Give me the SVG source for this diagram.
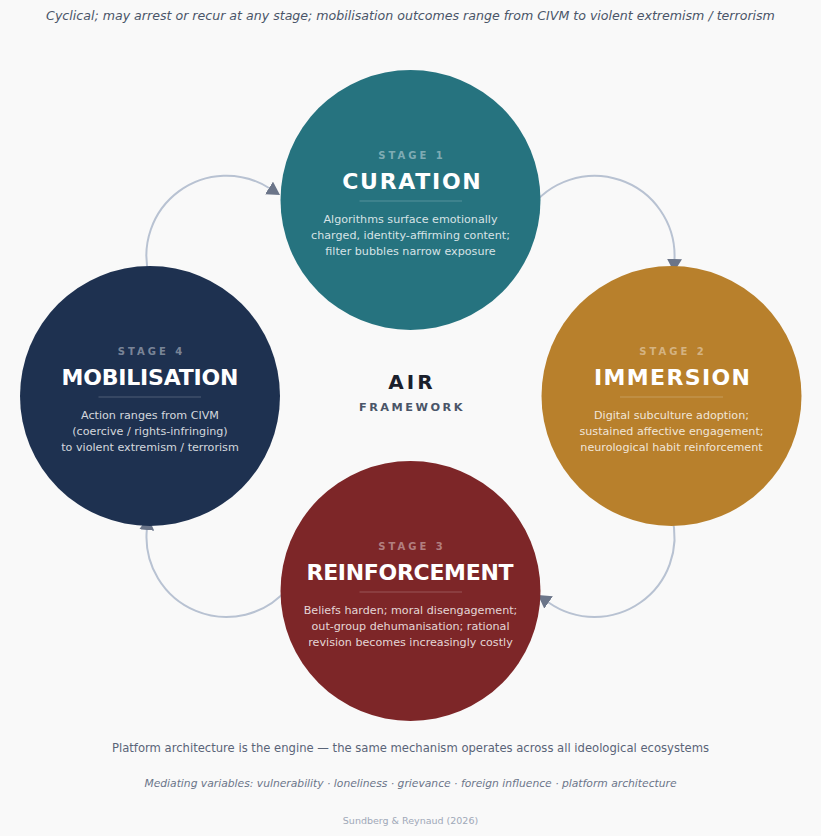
<svg xmlns="http://www.w3.org/2000/svg" width="821" height="836" viewBox="0 0 821 836">
<style>
text{font-family:"DejaVu Sans","Liberation Sans",sans-serif;text-anchor:middle}
.stage{font-size:10px;font-weight:bold;letter-spacing:3px;fill:#ffffff;fill-opacity:0.42}
.title{font-size:22px;font-weight:bold;fill:#ffffff}
.body{font-size:11.15px;fill:#ffffff;fill-opacity:0.82}
.sep{stroke:#ffffff;stroke-opacity:0.22;stroke-width:1}
.conn{fill:none;stroke:#b8c2d2;stroke-width:2}
</style>
<defs>
<marker id="arr" markerUnits="userSpaceOnUse" markerWidth="14" markerHeight="15" refX="0" refY="7.5" orient="auto">
<path d="M0,0 L13,7.5 L0,15 Z" fill="#6b7589"/>
</marker>
</defs>
<rect width="821" height="836" fill="#f9f9f9"/>
<text x="410.5" y="20" style="font-size:12.6px;font-style:italic;fill:#4a5568">Cyclical; may arrest or recur at any stage; mobilisation outcomes range from CIVM to violent extremism / terrorism</text>
<g id="connectors">
<path class="conn" marker-end="url(#arr)" d="M149.2,276.7 A80,80 0 0 1 269,188"/>
<path class="conn" marker-end="url(#arr)" d="M529,210 A80,80 0 0 1 674.5,259"/>
<path class="conn" marker-end="url(#arr)" d="M671.8,516.3 A80,80 0 0 1 548.6,602.5"/>
<path class="conn" marker-end="url(#arr)" d="M287.8,588.4 A80,80 0 0 1 146.8,530"/>
</g>
<g id="stage1">
<circle cx="410.5" cy="200" r="130" fill="#26737f"/>
<text class="stage" x="412" y="159">STAGE 1</text>
<text class="title" x="411.5" y="189" textLength="138.5" lengthAdjust="spacing">CURATION</text>
<line class="sep" x1="359.5" y1="201" x2="462" y2="201"/>
<text class="body" x="410.5" y="222.5">Algorithms surface emotionally</text>
<text class="body" x="410.5" y="238.5">charged, identity-affirming content;</text>
<text class="body" x="410.5" y="254.5">filter bubbles narrow exposure</text>
</g>
<g id="stage2">
<circle cx="671.5" cy="396" r="130" fill="#b8802c"/>
<text class="stage" x="673" y="354.5">STAGE 2</text>
<text class="title" x="672" y="384.5" textLength="156" lengthAdjust="spacing">IMMERSION</text>
<line class="sep" x1="620" y1="397" x2="723" y2="397"/>
<text class="body" x="671.5" y="418.5">Digital subculture adoption;</text>
<text class="body" x="671.5" y="434.5">sustained affective engagement;</text>
<text class="body" x="671.5" y="450.5">neurological habit reinforcement</text>
</g>
<g id="stage3">
<circle cx="410.5" cy="591" r="130" fill="#7d2628"/>
<text class="stage" x="412" y="550">STAGE 3</text>
<text class="title" x="410" y="580" textLength="207" lengthAdjust="spacing">REINFORCEMENT</text>
<line class="sep" x1="359.5" y1="592" x2="462" y2="592"/>
<text class="body" x="410.5" y="613.5">Beliefs harden; moral disengagement;</text>
<text class="body" x="410.5" y="629.5">out-group dehumanisation; rational</text>
<text class="body" x="410.5" y="645.5">revision becomes increasingly costly</text>
</g>
<g id="stage4">
<circle cx="150" cy="396" r="130" fill="#1e3150"/>
<text class="stage" x="151.5" y="354.5">STAGE 4</text>
<text class="title" x="150" y="384.5" textLength="177" lengthAdjust="spacing">MOBILISATION</text>
<line class="sep" x1="98.5" y1="397" x2="201" y2="397"/>
<text class="body" x="150" y="418.5">Action ranges from CIVM</text>
<text class="body" x="150" y="434.5">(coercive / rights-infringing)</text>
<text class="body" x="150" y="450.5">to violent extremism / terrorism</text>
</g>
<g id="center">
<text x="412" y="389" style="font-size:20px;font-weight:bold;letter-spacing:3px;fill:#1a202c">AIR</text>
<text x="412" y="411" style="font-size:11.3px;font-weight:bold;letter-spacing:2.5px;fill:#4a5568">FRAMEWORK</text>
</g>
<text x="410.5" y="751.5" style="font-size:11.6px;fill:#5a6478">Platform architecture is the engine — the same mechanism operates across all ideological ecosystems</text>
<text x="410.5" y="787" style="font-size:10.74px;font-style:italic;fill:#6b7589">Mediating variables: vulnerability · loneliness · grievance · foreign influence · platform architecture</text>
<text x="410.5" y="824" style="font-size:9.5px;fill:#a0a8b8">Sundberg &amp; Reynaud (2026)</text>
</svg>
